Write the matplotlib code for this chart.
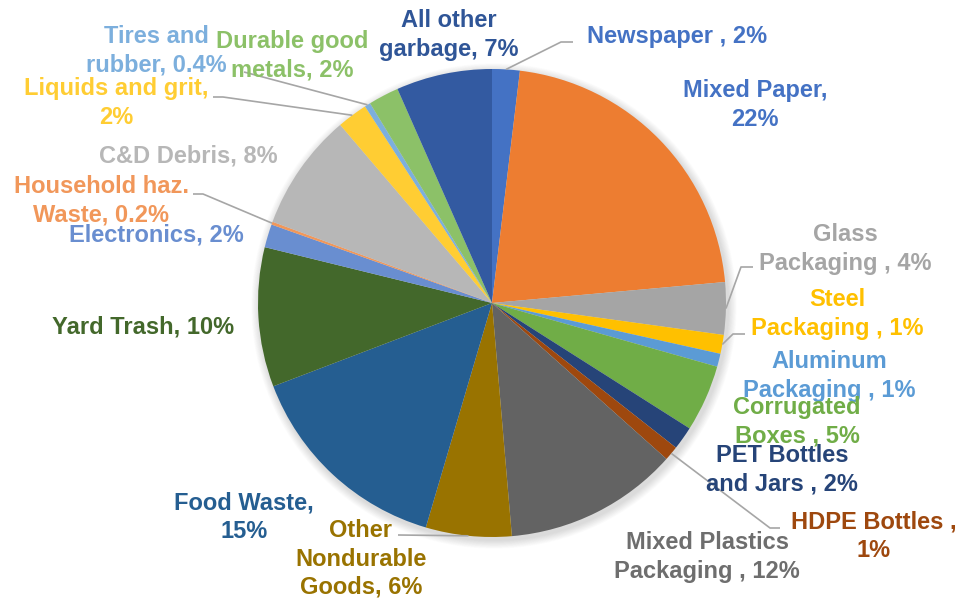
# waste composition pie chart with colored outside labels
import numpy as np
import matplotlib.pyplot as plt
from matplotlib.patches import Circle

plt.rcParams['font.family'] = ['Liberation Sans', 'DejaVu Sans']

categories = ["Newspaper ", "Mixed Paper,\n", "Glass\nPackaging ", "Steel\nPackaging ",
              "Aluminum\nPackaging ", "Corrugated\nBoxes ", "PET Bottles\nand Jars ",
              "HDPE Bottles ,\n", "Mixed Plastics\nPackaging ", "Other\nNondurable\nGoods",
              "Food Waste,\n", "Yard Trash", "Electronics", "Household haz.\nWaste",
              "C&D Debris", "Liquids and grit,\n", "Tires and\nrubber", "Durable good\nmetals",
              "All other\ngarbage"]
# percent of total
shares = [1.9, 21.6, 3.6, 1.3, 0.9, 4.6, 1.6, 1.0, 12.0, 5.9,
          14.6, 9.6, 1.6, 0.2, 8.1, 2.1, 0.4, 2.1, 6.6]

slice_colors = ["#4472C4", "#ED7D31", "#A5A5A5", "#FFC000", "#5B9BD5", "#70AD47",
                "#264478", "#9E480E", "#636363", "#997300", "#255E91", "#43682B",
                "#698ED0", "#F1975A", "#B7B7B7", "#FFCD33", "#7CAFDD", "#8CC168", "#335AA1"]
text_colors = list(slice_colors)
text_colors[1] = "#4472C4"
text_colors[8] = "#6E6E6E"
text_colors[18] = "#2F5597"

# label centers in pixels from the top-left corner
label_pos = [(677, 36), (755, 105), (845, 249), (837, 314), (829, 376), (797, 422),
             (782, 470), (874, 536), (707, 557), (361, 559), (244, 517), (143, 327),
             (156, 235), (101, 201), (188, 156), (116, 103), (156, 51), (292, 56), (449, 35)]
# leader lines: label side end point, elbow point (pixels from top)
leaders = {0: [(573, 42), (561, 42)],
           2: [(753, 267), (741, 267)],
           3: [(745, 334), (733, 334)],
           7: [(780, 528), (770, 528)],
           9: [(398, 535), (398, 535)],
           13: [(193, 194), (203, 194)],
           15: [(213, 97), (223, 97)],
           16: [(244, 72), (244, 72)]}

W, H = 961, 600
cx, cy, R = 492, H - 303, 234

fig = plt.figure(figsize=(W / 100, H / 100), dpi=100)
ax = fig.add_axes([0, 0, 1, 1])

# soft drop shadow behind the pie
for i in range(12):
    ax.add_patch(Circle((cx + 2, cy - 3), R + 1 + i * 0.7, color='black',
                        alpha=0.012, lw=0, zorder=0))

wedges, _ = ax.pie(shares, colors=slice_colors, startangle=90, counterclock=False,
                   center=(cx, cy), radius=R, frame=True,
                   wedgeprops=dict(linewidth=0, zorder=2))
ax.set_xlim(0, W)
ax.set_ylim(0, H)
ax.set_aspect('equal')
ax.axis('off')

for i, (name, v) in enumerate(zip(categories, shares)):
    pct = f"{v:.1f}%" if v < 0.5 else f"{v:.0f}%"
    if name.endswith("\n"):
        txt = name + pct
    else:
        txt = name + ", " + pct
    x, y = label_pos[i]
    ax.text(x, H - y, txt, color=text_colors[i], fontsize=17, fontweight='bold',
            ha='center', va='center', multialignment='center', linespacing=1.28, zorder=5)

for i, (end, elbow) in leaders.items():
    w = wedges[i]
    ang = np.deg2rad((w.theta1 + w.theta2) / 2)
    edge_pt = (cx + R * np.cos(ang), cy + R * np.sin(ang))
    xs = [end[0], elbow[0], edge_pt[0]]
    ys = [H - end[1], H - elbow[1], edge_pt[1]]
    ax.plot(xs, ys, color="#A6A6A6", lw=1.2, zorder=3, solid_capstyle='butt')

fig.savefig("out.png", dpi=100)
